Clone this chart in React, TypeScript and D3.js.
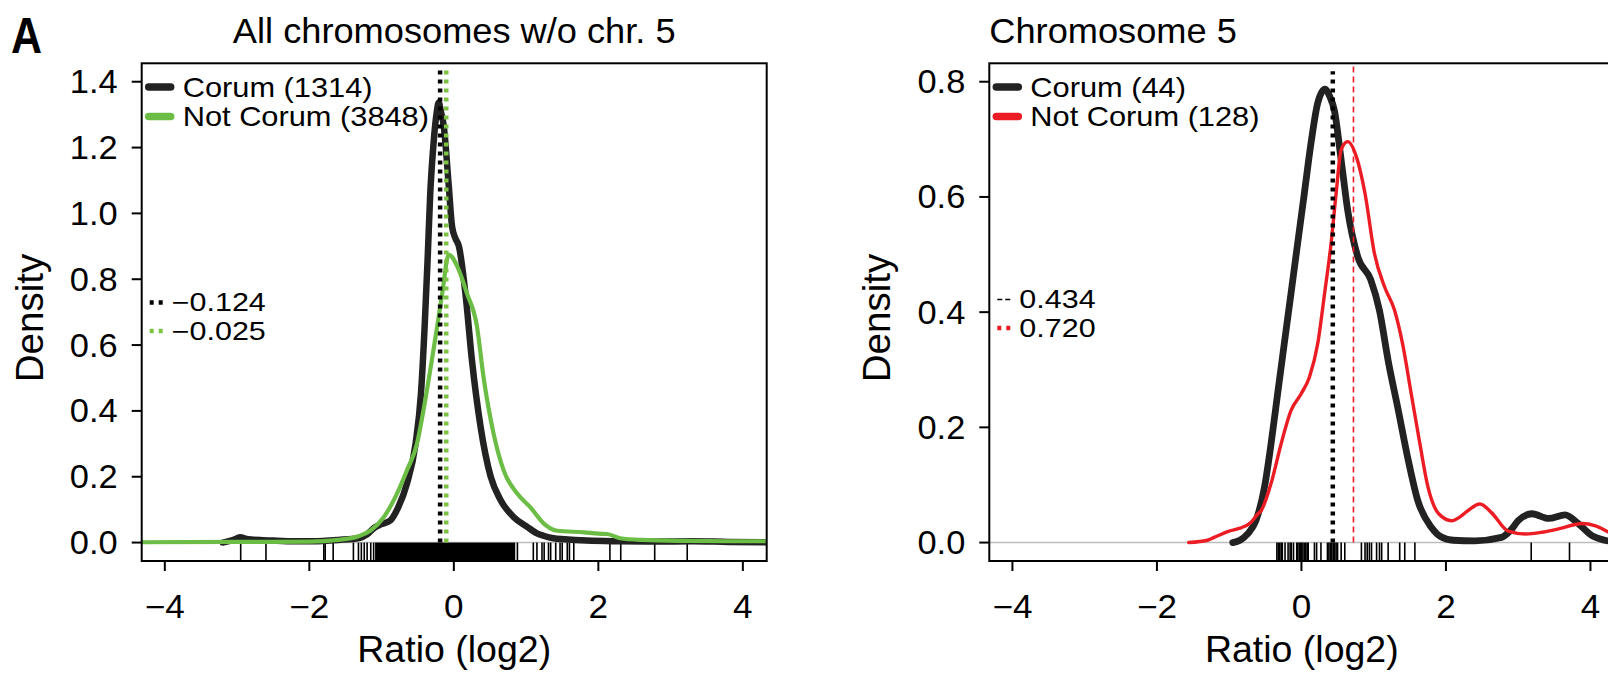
import React from 'react';
import * as d3 from 'd3';

const FONT = '"Liberation Sans", Arial, Helvetica, sans-serif';

// ---------- data ----------
const X_TICKS = [-4, -2, 0, 2, 4];
const X_TICK_LABELS = ['−4', '−2', '0', '2', '4'];
const LEFT_Y_TICKS = [0, 0.2, 0.4, 0.6, 0.8, 1.0, 1.2, 1.4];
const RIGHT_Y_TICKS = [0, 0.2, 0.4, 0.6, 0.8];
const X_DOMAIN: [number, number] = [-4.32, 4.33];
const LEFT_Y_DOMAIN: [number, number] = [-0.056, 1.456];
const RIGHT_Y_DOMAIN: [number, number] = [-0.032, 0.832];

const TITLES = ['All chromosomes w/o chr. 5', 'Chromosome 5'];
const LEFT_LEGEND = ['Corum (1314)', 'Not Corum (3848)'];
const RIGHT_LEGEND = ['Corum (44)', 'Not Corum (128)'];
const LEFT_NOTES = ['−0.124', '−0.025'];
const RIGHT_NOTES = ['0.434', '0.720'];
// positions of the vertical summary lines [x, top]
const LEFT_VLINES: [number, number][] = [[-0.19, 1.445], [-0.105, 1.445]];
const RIGHT_VLINES: [number, number][] = [[0.434, 0.818], [0.72, 0.832]];

const LEFT_CORUM: [number, number][] = [
  [-3.2, 0.0], [-3.05, 0.008], [-2.96, 0.016], [-2.85, 0.01], [-2.5, 0.006], [-2.2, 0.004],
  [-1.96, 0.004], [-1.6, 0.008], [-1.31, 0.014], [-1.2, 0.025], [-1.1, 0.045], [-1.0, 0.056],
  [-0.88, 0.067], [-0.77, 0.107], [-0.65, 0.178], [-0.53, 0.3], [-0.455, 0.453], [-0.404, 0.657],
  [-0.363, 0.86], [-0.326, 1.063], [-0.28, 1.215], [-0.235, 1.31], [-0.209, 1.337], [-0.18, 1.31],
  [-0.14, 1.266], [-0.07, 1.083], [-0.025, 0.961], [0.02, 0.925], [0.07, 0.9], [0.16, 0.758],
  [0.25, 0.555], [0.37, 0.352], [0.51, 0.2], [0.65, 0.128], [0.83, 0.077], [1.02, 0.047],
  [1.15, 0.028], [1.25, 0.02], [1.38, 0.013], [1.53, 0.01], [1.84, 0.006], [2.3, 0.004],
  [2.8, 0.003], [3.3, 0.004], [3.8, 0.002], [4.33, 0.001],
];
const LEFT_NOT_CORUM: [number, number][] = [
  [-4.33, 0.001], [-3.0, 0.002], [-2.0, 0.003], [-1.6, 0.008], [-1.31, 0.02], [-1.157, 0.036],
  [-0.97, 0.077], [-0.81, 0.138], [-0.65, 0.219], [-0.51, 0.3], [-0.42, 0.402], [-0.326, 0.525],
  [-0.23, 0.657], [-0.16, 0.758], [-0.07, 0.875], [0.046, 0.84], [0.18, 0.758], [0.32, 0.657],
  [0.41, 0.504], [0.55, 0.331], [0.69, 0.219], [0.88, 0.148], [1.06, 0.107], [1.25, 0.057],
  [1.43, 0.036], [1.8, 0.031], [2.0, 0.027], [2.12, 0.026], [2.3, 0.013], [2.6, 0.008],
  [3.23, 0.005], [3.8, 0.004], [4.33, 0.004],
];
const RIGHT_CORUM: [number, number][] = [
  [-0.95, 0.0], [-0.85, 0.004], [-0.745, 0.015], [-0.63, 0.038], [-0.51, 0.097], [-0.42, 0.172],
  [-0.33, 0.258], [-0.238, 0.345], [-0.145, 0.432], [-0.053, 0.519], [0.04, 0.606], [0.132, 0.693],
  [0.225, 0.763], [0.326, 0.787], [0.39, 0.775], [0.456, 0.75], [0.55, 0.664], [0.64, 0.577],
  [0.78, 0.496], [0.96, 0.456], [1.08, 0.403], [1.2, 0.316], [1.34, 0.23], [1.48, 0.142],
  [1.61, 0.073], [1.8, 0.026], [1.93, 0.01], [2.1, 0.004], [2.4, 0.003], [2.77, 0.009],
  [2.9, 0.022], [3.0, 0.038], [3.19, 0.05], [3.42, 0.042], [3.65, 0.048], [3.83, 0.033],
  [4.02, 0.012], [4.2, 0.004], [4.4, 0.001],
];
const RIGHT_NOT_CORUM: [number, number][] = [
  [-1.56, 0.0], [-1.3, 0.004], [-1.21, 0.009], [-1.0, 0.02], [-0.85, 0.025], [-0.7, 0.035],
  [-0.6, 0.05], [-0.56, 0.055], [-0.42, 0.103], [-0.28, 0.172], [-0.145, 0.229], [-0.006, 0.258],
  [0.11, 0.287], [0.225, 0.345], [0.32, 0.432], [0.41, 0.519], [0.48, 0.606], [0.55, 0.682],
  [0.64, 0.696], [0.76, 0.67], [0.88, 0.606], [1.01, 0.502], [1.15, 0.444], [1.29, 0.403],
  [1.4, 0.345], [1.52, 0.258], [1.64, 0.171], [1.75, 0.097], [1.9, 0.05], [2.08, 0.038],
  [2.2, 0.045], [2.3, 0.055], [2.47, 0.067], [2.63, 0.052], [2.86, 0.02], [3.1, 0.015],
  [3.33, 0.018], [3.6, 0.025], [3.88, 0.033], [4.07, 0.029], [4.27, 0.017], [4.4, 0.01],
];

const LEFT_RUG = [-2.95, -2.6, -1.8, -1.78, -1.67, -1.39, -1.32, -1.28, -1.24, -1.2, -1.15, -1.11,
  0.88, 1.1, 1.15, 1.22, 1.25, 1.31, 1.34, 1.41, 1.47, 1.5, 1.57, 1.6, 1.66, 2.16, 2.31, 2.78, 3.23];
const LEFT_RUG_BANDS: [number, number][] = [[-1.09, 0.85]];
const RIGHT_RUG = [-0.34, -0.32, -0.3, -0.28, -0.265, -0.227, -0.185, -0.157, -0.14, -0.11,
  -0.065, -0.05, -0.03, -0.01, 0.0, 0.02, 0.04, 0.06, 0.08, 0.094, 0.18, 0.21, 0.27,
  0.36, 0.38, 0.4, 0.42, 0.44, 0.46, 0.48, 0.5, 0.55, 0.6, 0.83, 0.88, 0.91, 0.94, 0.97,
  1.04, 1.08, 1.11, 1.2, 1.36, 1.43, 1.57, 3.18, 3.71];

// ---------- layout ----------
const BOX_TOP = 63.3;
const BOX_BOTTOM = 561;
const BLACK = '#222222';
const GREEN = '#6cbd45';
const RED = '#ec1c24';

type Curve = { data: [number, number][]; color: string; width: number };
type VLine = { pos: [number, number]; color: string; width: number; dash: string };
type Note = { text: string; color: string; width: number; dash: string };

function Txt(props: {
  x: number; y: number; size: number; sx?: number; anchor?: string; weight?: string;
  children: React.ReactNode; rotate?: number; fill?: string;
}) {
  const { x, y, size, sx = 1, anchor = 'start', weight = 'normal', rotate = 0, fill = '#000' } = props;
  return (
    <g transform={`translate(${x},${y}) rotate(${rotate}) scale(${sx},1)`}>
      <text fontFamily={FONT} fontSize={size} textAnchor={anchor as any} fontWeight={weight} fill={fill}>
        {props.children}
      </text>
    </g>
  );
}

function Panel(props: {
  id: string; x0: number; x1: number; yDomain: [number, number]; yTicks: number[];
  title: string; titleCenter: boolean; curves: Curve[]; vlines: VLine[];
  legend: { label: string; color: string }[]; notes: Note[]; noteBase: number;
  rug: number[]; bands: [number, number][];
}) {
  const { x0, x1 } = props;
  const xs = d3.scaleLinear().domain(X_DOMAIN).range([x0, x1]);
  const ys = d3.scaleLinear().domain(props.yDomain).range([BOX_BOTTOM, BOX_TOP]);
  const line = d3.line<[number, number]>().x(d => xs(d[0])).y(d => ys(d[1])).curve(d3.curveMonotoneX);
  const y0 = ys(0);
  const yb = ys(props.yDomain[0]);
  const mid = (x0 + x1) / 2;
  return (
    <g>
      <defs>
        <clipPath id={props.id}>
          <rect x={x0} y={BOX_TOP} width={x1 - x0} height={BOX_BOTTOM - BOX_TOP} />
        </clipPath>
      </defs>
      <g clipPath={`url(#${props.id})`}>
        <line x1={x0} x2={x1} y1={y0} y2={y0} stroke="#bdbdbd" strokeWidth={1.6} />
        {props.bands.map((b, i) => (
          <rect key={i} x={xs(b[0])} y={y0} width={xs(b[1]) - xs(b[0])} height={yb - y0} fill="#000" />
        ))}
        {props.rug.map((r, i) => (
          <line key={i} x1={xs(r)} x2={xs(r)} y1={yb} y2={y0} stroke="#000" strokeWidth={1.6} />
        ))}
        {props.curves.map((c, i) => (
          <path key={i} d={line(c.data) || ''} fill="none" stroke={c.color} strokeWidth={c.width}
            strokeLinejoin="round" strokeLinecap="round" />
        ))}
        {props.vlines.map((v, i) => (
          <line key={i} x1={xs(v.pos[0])} x2={xs(v.pos[0])} y1={y0} y2={ys(v.pos[1])}
            stroke={v.color} strokeWidth={v.width} strokeDasharray={v.dash} />
        ))}
      </g>
      <rect x={x0} y={BOX_TOP} width={x1 - x0} height={BOX_BOTTOM - BOX_TOP} fill="none" stroke="#000" strokeWidth={2} />
      {props.yTicks.map(t => (
        <g key={t}>
          <line x1={x0} x2={x0 - 10} y1={ys(t)} y2={ys(t)} stroke="#000" strokeWidth={2} />
          <Txt x={x0 - 24} y={ys(t) + 11.5} size={32.5} sx={1.06} anchor="end">{t.toFixed(1)}</Txt>
        </g>
      ))}
      {X_TICKS.map((t, i) => (
        <g key={t}>
          <line x1={xs(t)} x2={xs(t)} y1={BOX_BOTTOM} y2={BOX_BOTTOM + 10} stroke="#000" strokeWidth={2} />
          <Txt x={xs(t)} y={618} size={32.5} sx={1.08} anchor="middle">{X_TICK_LABELS[i]}</Txt>
        </g>
      ))}
      <Txt x={mid} y={662} size={37.5} anchor="middle">Ratio (log2)</Txt>
      <Txt x={x0 - 99} y={318} size={38.5} anchor="middle" rotate={-90}>Density</Txt>
      <Txt x={props.titleCenter ? mid : x0} y={43} size={34.5} sx={1.05} anchor={props.titleCenter ? 'middle' : 'start'}>
        {props.title}
      </Txt>
      {props.legend.map((l, i) => (
        <g key={l.label}>
          <line x1={x0 + 7} x2={x0 + 29} y1={87 + i * 29.5} y2={87 + i * 29.5} stroke={l.color} strokeWidth={7.5} strokeLinecap="round" />
          <Txt x={x0 + 41} y={96.5 + i * 29.5} size={28.5} sx={1.08}>{l.label}</Txt>
        </g>
      ))}
      {props.notes.map((n, i) => (
        <g key={n.text}>
          <line x1={x0 + 8} x2={x0 + 22} y1={props.noteBase - 8.5 + i * 28.5} y2={props.noteBase - 8.5 + i * 28.5}
            stroke={n.color} strokeWidth={n.width} strokeDasharray={n.dash} />
          <Txt x={x0 + 30} y={props.noteBase + i * 28.5} size={25} sx={1.22}>{n.text}</Txt>
        </g>
      ))}
    </g>
  );
}

export default function App() {
  return (
    <svg width={1608} height={673} style={{ position: 'absolute', left: 0, top: 0, background: '#fff' }}>
      <rect width={1608} height={673} fill="#fff" />
      <Txt x={11} y={53} size={50} sx={0.86} weight="bold">A</Txt>
      <Panel
        id="clipL" x0={141.7} x1={766.7} yDomain={LEFT_Y_DOMAIN} yTicks={LEFT_Y_TICKS}
        title={TITLES[0]} titleCenter={true}
        curves={[
          { data: LEFT_CORUM, color: BLACK, width: 6.5 },
          { data: LEFT_NOT_CORUM, color: GREEN, width: 4.2 },
        ]}
        vlines={[
          { pos: LEFT_VLINES[0], color: '#000', width: 4.5, dash: '4 5' },
          { pos: LEFT_VLINES[1], color: '#7dc242', width: 4.5, dash: '4 5' },
        ]}
        legend={[{ label: LEFT_LEGEND[0], color: BLACK }, { label: LEFT_LEGEND[1], color: GREEN }]}
        notes={[
          { text: LEFT_NOTES[0], color: '#000', width: 4.5, dash: '4 5' },
          { text: LEFT_NOTES[1], color: '#7dc242', width: 4.5, dash: '4 5' },
        ]}
        noteBase={311}
        rug={LEFT_RUG} bands={LEFT_RUG_BANDS}
      />
      <Panel
        id="clipR" x0={989.3} x1={1614.3} yDomain={RIGHT_Y_DOMAIN} yTicks={RIGHT_Y_TICKS}
        title={TITLES[1]} titleCenter={false}
        curves={[
          { data: RIGHT_CORUM, color: BLACK, width: 6.8 },
          { data: RIGHT_NOT_CORUM, color: RED, width: 3.4 },
        ]}
        vlines={[
          { pos: RIGHT_VLINES[0], color: '#000', width: 4.5, dash: '4 5' },
          { pos: RIGHT_VLINES[1], color: RED, width: 1.6, dash: '6 4' },
        ]}
        legend={[{ label: RIGHT_LEGEND[0], color: BLACK }, { label: RIGHT_LEGEND[1], color: RED }]}
        notes={[
          { text: RIGHT_NOTES[0], color: '#000', width: 1.6, dash: '5 3' },
          { text: RIGHT_NOTES[1], color: RED, width: 4.5, dash: '4 5' },
        ]}
        noteBase={308}
        rug={RIGHT_RUG} bands={[]}
      />
    </svg>
  );
}
